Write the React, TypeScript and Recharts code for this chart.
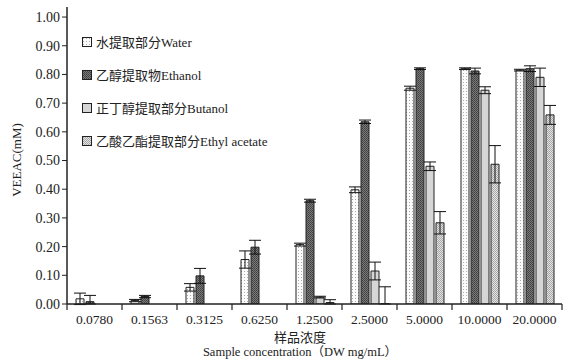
import React from 'react';
import { BarChart, Bar, XAxis, YAxis, ErrorBar } from 'recharts';

const categories = ['0.0780', '0.1563', '0.3125', '0.6250', '1.2500', '2.5000', '5.0000', '10.0000', '20.0000'];
const water = [0.018, 0.012, 0.058, 0.155, 0.207, 0.398, 0.752, 0.82, 0.815];
const waterErr = [0.02, 0.004, 0.013, 0.03, 0.005, 0.01, 0.007, 0.003, 0.003];
const ethanol = [0.008, 0.026, 0.098, 0.198, 0.36, 0.635, 0.82, 0.812, 0.82];
const ethanolErr: (number | number[])[] = [[0.008, 0.022], 0.004, 0.026, 0.024, 0.005, 0.006, 0.003, 0.01, 0.01];
const butanol = [null, null, null, null, 0.024, 0.115, 0.48, 0.745, 0.79];
const butanolErr = [null, null, null, null, 0.003, 0.031, 0.015, 0.012, 0.032];
const ethylAcetate = [null, null, null, null, 0.005, 0.001, 0.283, 0.487, 0.659];
const ethylAcetateErr: (number | number[] | null)[] = [null, null, null, null, [0.005, 0.01], [0.001, 0.059], 0.039, 0.065, 0.033];
const yTicks = [0, 0.1, 0.2, 0.3, 0.4, 0.5, 0.6, 0.7, 0.8, 0.9, 1.0];

const seriesNames = ['水提取部分Water', '乙醇提取物Ethanol', '正丁醇提取部分Butanol', '乙酸乙酯提取部分Ethyl acetate'];
const fills = ['url(#pWater)', 'url(#pEthanol)', 'url(#pButanol)', 'url(#pEA)'];

const data = categories.map((c, i) => ({
  name: c,
  water: water[i],
  waterErr: waterErr[i],
  ethanol: ethanol[i],
  ethanolErr: ethanolErr[i],
  butanol: butanol[i],
  butanolErr: butanolErr[i],
  ea: ethylAcetate[i],
  eaErr: ethylAcetateErr[i],
}));

const FONT = '"Liberation Serif", "Noto Sans CJK SC", serif';

const W = 573;
const H = 360;
const LEFT = 67;
const RIGHT = 11;
const BAND = (W - LEFT - RIGHT) / categories.length;

const Patterns = () => (
  <svg width={0} height={0} style={{ position: 'absolute' }}>
    <defs>
      <pattern id="pWater" width={3} height={3} patternUnits="userSpaceOnUse">
        <rect width={3} height={3} fill="#fbfbfb" />
        <rect x={1} y={1} width={1} height={1} fill="#aaa" />
      </pattern>
      <pattern id="pEthanol" width={2} height={2} patternUnits="userSpaceOnUse">
        <rect width={2} height={2} fill="#7a7a7a" />
        <rect width={1} height={1} fill="#3e3e3e" />
        <rect x={1} y={1} width={1} height={1} fill="#4a4a4a" />
      </pattern>
      <pattern id="pButanol" width={4} height={4} patternUnits="userSpaceOnUse">
        <rect width={4} height={4} fill="#d6d6d6" />
      </pattern>
      <pattern id="pEA" width={2} height={2} patternUnits="userSpaceOnUse">
        <rect width={2} height={2} fill="#e2e2e2" />
        <rect width={1} height={1} fill="#a8a8a8" />
        <rect x={1} y={1} width={1} height={1} fill="#a8a8a8" />
      </pattern>
    </defs>
  </svg>
);

const XTick = (props: any) => {
  const { x, y, payload, index } = props;
  const left = x - BAND / 2;
  return (
    <g>
      <line x1={left} y1={y - 8} x2={left} y2={y - 2} stroke="#222" strokeWidth={1.2} />
      {index === categories.length - 1 && (
        <line x1={x + BAND / 2} y1={y - 8} x2={x + BAND / 2} y2={y - 2} stroke="#222" strokeWidth={1.2} />
      )}
      <text x={x} y={y + 12} textAnchor="middle" fontSize={13.5} fill="#222" fontFamily={FONT}>
        {payload.value}
      </text>
    </g>
  );
};

const App = () => {
  return (
    <div style={{ position: 'absolute', left: 0, top: 0, width: W, height: H, background: '#fff', fontFamily: FONT }}>
      <Patterns />
      <BarChart width={W} height={H} data={data} margin={{ top: 7, right: RIGHT, left: 0, bottom: 0 }} barSize={8} barGap={2}>
        <XAxis
          dataKey="name"
          height={56}
          tickLine={false}
          axisLine={{ stroke: '#222', strokeWidth: 1.5 }}
          tick={<XTick />}
          interval={0}
        />
        <YAxis
          width={LEFT}
          domain={[0, 1.035]}
          ticks={yTicks}
          tickFormatter={(v: number) => v.toFixed(2)}
          tick={{ fontSize: 14, fill: '#222', fontFamily: FONT }}
          tickSize={5}
          tickMargin={2}
          tickLine={{ stroke: '#222' }}
          axisLine={{ stroke: '#222', strokeWidth: 1.5 }}
          allowDataOverflow
        />
        <Bar dataKey="water" fill={fills[0]} stroke="#222" strokeWidth={1} isAnimationActive={false}>
          <ErrorBar dataKey="waterErr" width={6} stroke="#111" strokeWidth={1} />
        </Bar>
        <Bar dataKey="ethanol" fill={fills[1]} stroke="#222" strokeWidth={1} isAnimationActive={false}>
          <ErrorBar dataKey="ethanolErr" width={6} stroke="#111" strokeWidth={1} />
        </Bar>
        <Bar dataKey="butanol" fill={fills[2]} stroke="#222" strokeWidth={1} isAnimationActive={false}>
          <ErrorBar dataKey="butanolErr" width={6} stroke="#111" strokeWidth={1} />
        </Bar>
        <Bar dataKey="ea" fill={fills[3]} stroke="#222" strokeWidth={1} isAnimationActive={false}>
          <ErrorBar dataKey="eaErr" width={6} stroke="#111" strokeWidth={1} />
        </Bar>
      </BarChart>

      {/* legend */}
      <div style={{ position: 'absolute', left: 82, top: 25 }}>
        {seriesNames.map((n, i) => (
          <div key={n} style={{ display: 'flex', alignItems: 'center', height: 33, fontSize: 13, color: '#222' }}>
            <svg width={10} height={10} style={{ marginRight: 4 }}>
              <rect x={0.5} y={0.5} width={9} height={9} fill={fills[i]} stroke="#222" strokeWidth={1} />
            </svg>
            <span>{n}</span>
          </div>
        ))}
      </div>

      {/* y axis title */}
      <div
        style={{
          position: 'absolute', left: 17, top: 160, fontSize: 13, color: '#222', whiteSpace: 'nowrap',
          transform: 'translate(-50%, -50%) rotate(-90deg)',
        }}
      >
        VEEAC(mM)
      </div>

      {/* x axis title */}
      <div style={{ position: 'absolute', left: 300, top: 330, transform: 'translateX(-50%)', textAlign: 'center', color: '#222', whiteSpace: 'nowrap' }}>
        <div style={{ fontSize: 13, lineHeight: '15px' }}>样品浓度</div>
        <div style={{ fontSize: 12.5, lineHeight: '15px' }}>Sample concentration（DW mg/mL）</div>
      </div>
    </div>
  );
};

export default App;
